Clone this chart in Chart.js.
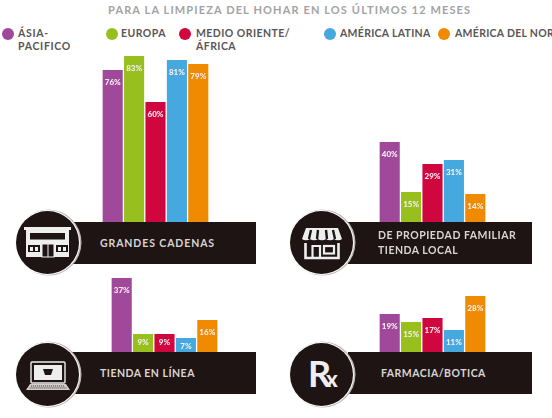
<!DOCTYPE html>
<html lang="es">
<head>
<meta charset="utf-8">
<title>Limpieza del hogar por canal</title>
<script src="https://cdn.jsdelivr.net/npm/chart.js@4"></script>
<style>
  html, body { margin: 0; padding: 0; background: #fff; }
  #page { position: relative; width: 552px; height: 418px; overflow: hidden; font-family: Lato, sans-serif; font-weight: 700; }
  #page > * { position: absolute; }
  .title { left: 108px; top: 3px; font-size: 11px; line-height: 14px; letter-spacing: 1.13px; color: #a3a3a3; white-space: nowrap; }
  .dot { width: 12px; height: 12px; border-radius: 50%; }
  .key { font-size: 10.5px; line-height: 13px; letter-spacing: .45px; color: #5a5556; white-space: nowrap; }
  .band { width: 184px; height: 42px; background: #1e1414; }
  .disc { width: 63px; height: 63px; border-radius: 50%; background: #1e1414; box-shadow: 0 0 0 1px #fff, 1px 0 0 1.5px #b9b3b1; }
  .name { font-size: 10.5px; line-height: 15px; letter-spacing: .5px; color: #d9d5d2; white-space: nowrap; }
  svg { overflow: visible; }
</style>
</head>
<body>
<div id="page">
  <div class="title">PARA LA LIMPIEZA DEL HOHAR EN LOS ÚLTIMOS 12 MESES</div>

  <div class="dot" style="left:2px;top:28px;background:#a0499b"></div>
  <div class="key" style="left:18px;top:27px;letter-spacing:.7px">ÁSIA-<br>PACIFICO</div>
  <div class="dot" style="left:106px;top:28px;background:#97bf1e"></div>
  <div class="key" style="left:121px;top:27px">EUROPA</div>
  <div class="dot" style="left:179px;top:28px;background:#d0063f"></div>
  <div class="key" style="left:196px;top:27px">MEDIO ORIENTE/<br>ÁFRICA</div>
  <div class="dot" style="left:324px;top:28px;background:#45a9df"></div>
  <div class="key" style="left:340px;top:27px;letter-spacing:.3px">AMÉRICA LATINA</div>
  <div class="dot" style="left:438px;top:28px;background:#f08a00"></div>
  <div class="key" style="left:455px;top:27px;letter-spacing:.3px">AMÉRICA DEL NORTE</div>

  <canvas id="grandes" width="107" height="180" style="left:102px;top:42px"></canvas>
  <canvas id="familiar" width="107" height="90" style="left:378.5px;top:132px"></canvas>
  <canvas id="linea" width="107" height="90" style="left:111px;top:262px"></canvas>
  <canvas id="farmacia" width="107" height="90" style="left:379px;top:262px"></canvas>

  <div class="band" style="left:72px;top:222px"></div>
  <div class="band" style="left:348px;top:222px"></div>
  <div class="band" style="left:72px;top:352px"></div>
  <div class="band" style="left:348px;top:352px"></div>

  <div class="disc" style="left:16px;top:211px"></div>
  <div class="disc" style="left:290px;top:211px"></div>
  <div class="disc" style="left:16px;top:343px"></div>
  <div class="disc" style="left:290px;top:343px"></div>

  <!-- supermarket front -->
  <svg style="left:23px;top:226px" width="50" height="32" viewBox="0 0 50 32">
    <rect x="1" y="1" width="47" height="3" fill="#eee"/>
    <rect x="3" y="4" width="43" height="27" fill="#eee"/>
    <rect x="6.5" y="6.5" width="36" height="7.5" fill="#1e1414" stroke="#eee"/>
    <rect x="5" y="19" width="12" height="7" fill="#1e1414"/>
    <rect x="33" y="19" width="12" height="7" fill="#1e1414"/>
    <rect x="7" y="21" width="3" height="4" fill="#eee"/><rect x="12" y="21" width="3" height="4" fill="#eee"/>
    <rect x="35" y="21" width="3" height="4" fill="#eee"/><rect x="40" y="21" width="3" height="4" fill="#eee"/>
    <rect x="19" y="18" width="12" height="13" fill="#1e1414" stroke="#eee"/>
    <line x1="25" y1="18" x2="25" y2="31" stroke="#eee"/>
  </svg>

  <!-- family shop with awning -->
  <svg style="left:301px;top:227px" width="42" height="32" viewBox="0 0 42 32">
    <path d="M5 1H37L41 12H1Z" fill="#eee"/>
    <path d="M10 3 8 12M17 3 16 12M25 3 26 12M32 3 34 12" stroke="#1e1414" stroke-width="2.4"/>
    <path d="M1 12a5 3.4 0 0 0 8 0a5 3.4 0 0 0 8 0a5 3.4 0 0 0 8 0a5 3.4 0 0 0 8 0a5 3.4 0 0 0 8 0Z" fill="#eee"/>
    <path d="M4.5 16V31H37.5V16" fill="none" stroke="#eee" stroke-width="2.6"/>
    <path d="M11.5 31V19H19V31" fill="none" stroke="#eee" stroke-width="2.2"/>
    <rect x="23" y="19" width="10" height="7.5" fill="none" stroke="#eee" stroke-width="2.2"/>
  </svg>

  <!-- laptop with basket on screen -->
  <svg style="left:25px;top:361px" width="46" height="30" viewBox="0 0 46 30">
    <rect x="6" y="1" width="34" height="21" rx="1" fill="#1e1414" stroke="#eee" stroke-width="1.4"/>
    <rect x="9" y="4" width="28" height="15" fill="#eee"/>
    <path d="M18 8H28L26 14H20Z" fill="#1e1414"/>
    <path d="M5 23H41L45 29H1Z" fill="#d3cfcd"/>
    <path d="M6 25H40M4.5 27H41.5" stroke="#1e1414" stroke-width=".8" stroke-dasharray="1.2 .8"/>
  </svg>

  <div style="left:308px;top:351px;font:700 36px/44px Lato,sans-serif;color:#eee">R</div>
  <div style="left:326px;top:366px;font:900 22px/26px Lato,sans-serif;color:#eee">x</div>

  <div class="name" style="left:100px;top:236px;letter-spacing:.9px">GRANDES CADENAS</div>
  <div class="name" style="left:378px;top:228px">DE PROPIEDAD FAMILIAR<br>TIENDA LOCAL</div>
  <div class="name" style="left:100px;top:366px">TIENDA EN LÍNEA</div>
  <div class="name" style="left:381px;top:366px">FARMACIA/BOTICA</div>
</div>

<script>
// Regions shared by every retail channel
const regions = ['Ásia-Pacifico', 'Europa', 'Medio Oriente/África', 'América Latina', 'América del Norte'];
const regionColors = ['#a0499b', '#97bf1e', '#d0063f', '#45a9df', '#f08a00'];

// Share of shoppers per channel, in percent
const grandesCadenas = [76, 83, 60, 81, 79];
const propiedadFamiliar = [40, 15, 29, 31, 14];
const tiendaEnLinea = [37, 9, 9, 7, 16];
const farmaciaBotica = [19, 15, 17, 11, 28];

// Writes each percentage in white just under the top of its bar
const percentLabels = {
  id: 'percentLabels',
  afterDatasetsDraw(chart) {
    const { ctx } = chart;
    const values = chart.data.datasets[0].data;
    ctx.save();
    ctx.font = '900 8px Lato, sans-serif';
    ctx.fillStyle = '#f6eef2';
    ctx.textAlign = 'center';
    ctx.textBaseline = 'middle';
    chart.getDatasetMeta(0).data.forEach((bar, i) => {
      const drop = values[i] < 10 ? 8.5 : 12;
      ctx.fillText(values[i] + '%', bar.x, bar.y + drop);
    });
    ctx.restore();
  }
};

function channelChart(canvasId, values, axisMax) {
  return new Chart(document.getElementById(canvasId), {
    type: 'bar',
    data: {
      labels: regions,
      datasets: [{ data: values, backgroundColor: regionColors, barPercentage: 0.94, categoryPercentage: 1 }]
    },
    options: {
      responsive: false,
      animation: false,
      layout: { padding: 0 },
      plugins: { legend: { display: false }, tooltip: { enabled: false } },
      scales: {
        x: { display: false },
        y: { display: false, min: 0, max: axisMax }
      }
    },
    plugins: [percentLabels]
  });
}

channelChart('grandes', grandesCadenas, 90);
channelChart('familiar', propiedadFamiliar, 45);
channelChart('linea', tiendaEnLinea, 45);
channelChart('farmacia', farmaciaBotica, 45);
</script>
</body>
</html>
